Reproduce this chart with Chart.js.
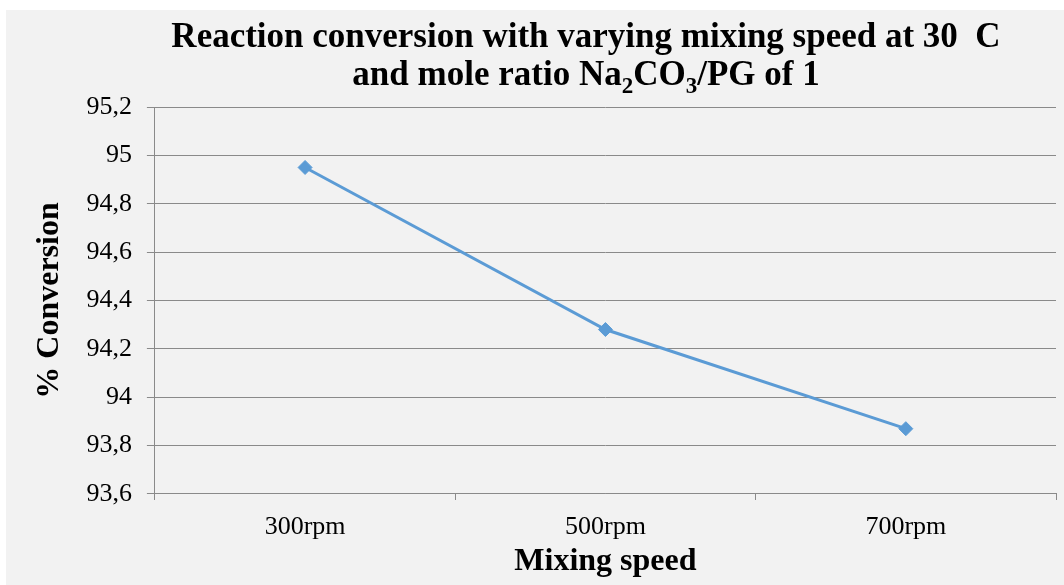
<!DOCTYPE html>
<html>
<head>
<meta charset="utf-8">
<script src="https://cdn.jsdelivr.net/npm/chart.js@4"></script>
<style>
    body { margin: 0; background: #ffffff; }
    #wrap { position: absolute; left: 6px; top: 10px; width: 1058px; height: 575px; background: #f2f2f2; }
</style>
</head>
<body>
<div id="wrap"><canvas id="convChart" width="1058" height="575"></canvas></div>
<script>
const speeds = ['300rpm', '500rpm', '700rpm'];
const conversion = [94.95, 94.28, 93.87];
const yTicks = ['93,6', '93,8', '94', '94,2', '94,4', '94,6', '94,8', '95', '95,2'];

const titleLine1 = 'Reaction conversion with varying mixing speed at 30  C';
// second line in pieces: [text, isSubscript]
const titleLine2 = [['and mole ratio Na', false], ['2', true], ['CO', false], ['3', true], ['/PG of 1', false]];

const gridGrey = '#8a8a8a';
const serif = '"Liberation Serif", "Times New Roman", serif';

const titlePlugin = {
    id: 'subTitle',
    afterDraw(chart) {
        const c = chart.ctx;
        const cx = 580;
        c.save();
        c.fillStyle = '#000';
        c.textBaseline = 'alphabetic';
        c.font = 'bold 35px ' + serif;
        c.textAlign = 'center';
        c.fillText(titleLine1, cx, 37);

        // measure line 2 with subscripts
        const big = 'bold 35px ' + serif, small = 'bold 23px ' + serif;
        let total = 0;
        titleLine2.forEach(p => { c.font = p[1] ? small : big; total += c.measureText(p[0]).width; });
        let x = cx - total / 2;
        c.textAlign = 'left';
        titleLine2.forEach(p => {
            c.font = p[1] ? small : big;
            c.fillText(p[0], x, p[1] ? 83 : 75);
            x += c.measureText(p[0]).width;
        });
        c.restore();
    }
};

window.onload = function () {
    const ctx = document.getElementById('convChart').getContext('2d');

    new Chart(ctx, {
        type: 'line',
        data: {
            labels: speeds,
            datasets: [{
                label: '% Conversion',
                data: conversion,
                borderColor: '#5b9bd5',
                backgroundColor: '#5b9bd5',
                borderWidth: 3,
                tension: 0,
                pointStyle: 'rectRot',
                pointRadius: 7,
                pointHoverRadius: 7,
                pointBorderWidth: 1
            }]
        },
        options: {
            responsive: false,
            animation: false,
            layout: { padding: { top: 97, right: 7, left: 0, bottom: 4 } },
            plugins: {
                legend: { display: false },
                tooltip: { enabled: false }
            },
            scales: {
                x: {
                    offset: true,
                    grid: {
                        offset: true,
                        drawOnChartArea: true,
                        color: c => c.index === speeds.length ? gridGrey : 'rgba(0,0,0,0)',
                        tickColor: gridGrey,
                        tickLength: 6
                    },
                    border: { color: gridGrey, width: 1 },
                    ticks: {
                        color: '#000',
                        font: { family: serif, size: 26, lineHeight: 0.385 },
                        padding: 22
                    },
                    title: {
                        display: true,
                        text: 'Mixing speed',
                        color: '#000',
                        font: { family: serif, size: 32, weight: 'bold', lineHeight: 0.5 },
                        padding: { top: 0, bottom: 11 }
                    }
                },
                y: {
                    min: 93.6,
                    max: 95.2,
                    ticks: {
                        stepSize: 0.2,
                        color: '#000',
                        font: { family: serif, size: 26 },
                        padding: 15,
                        callback: (v, i) => yTicks[i]
                    },
                    grid: { color: gridGrey, tickColor: gridGrey, tickLength: 8 },
                    border: { color: gridGrey, width: 1 },
                    title: {
                        display: true,
                        text: '% Conversion',
                        color: '#000',
                        font: { family: serif, size: 32, weight: 'bold' },
                        padding: { top: 25, bottom: 2 }
                    }
                }
            }
        },
        plugins: [titlePlugin]
    });
};
</script>
</body>
</html>
